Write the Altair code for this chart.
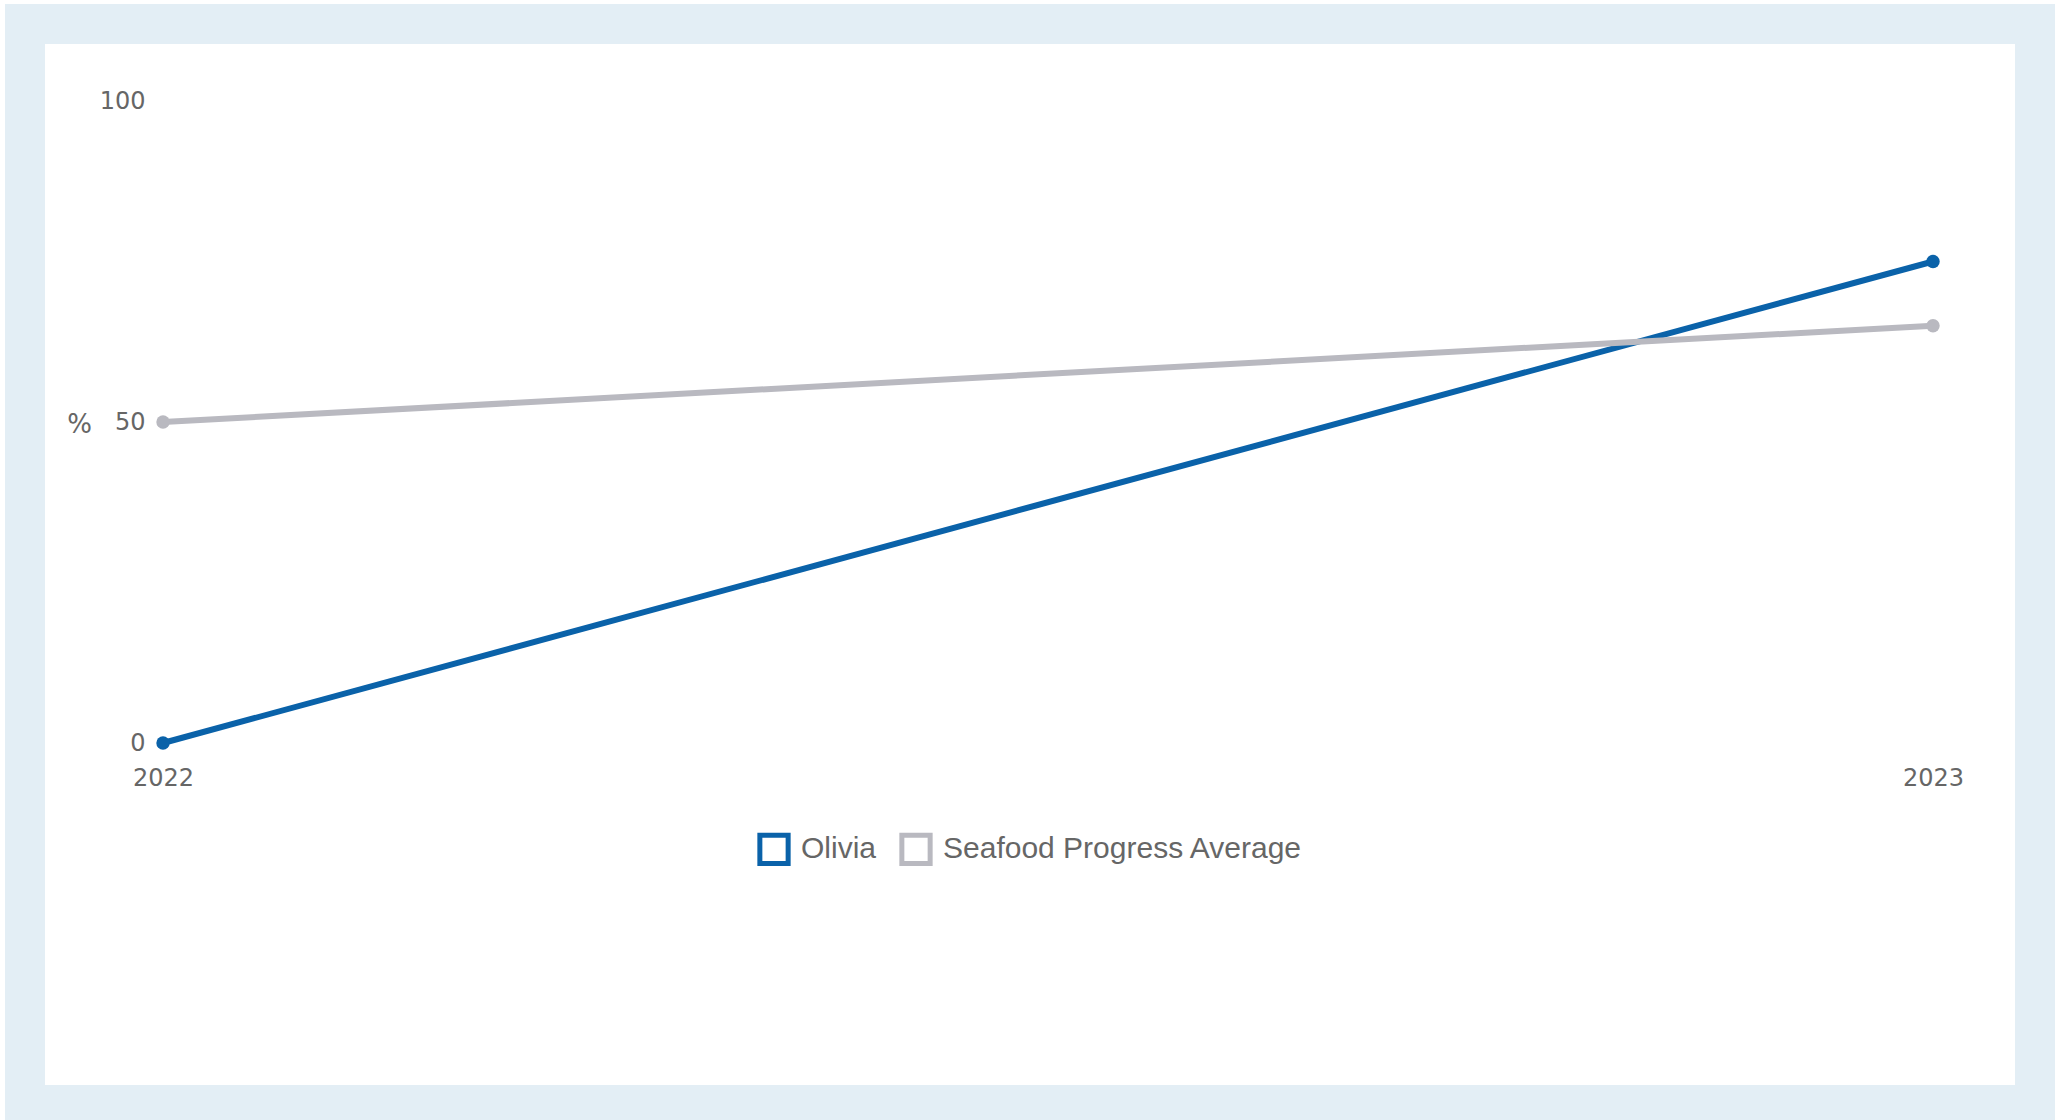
import altair as alt
import pandas as pd

# Series values (percent)
years = ["2022", "2023"]
olivia = [0, 75]
seafood_avg = [50, 65]
series_names = ["Olivia", "Seafood Progress Average"]
series_colors = ["#0a62a9", "#b9b9c0"]

rows = []
for y, v in zip(years, olivia):
    rows.append({"year": y, "value": v, "series": series_names[0]})
for y, v in zip(years, seafood_avg):
    rows.append({"year": y, "value": v, "series": series_names[1]})
df = pd.DataFrame(rows)

one = pd.DataFrame({"k": [0]})

label_color = "#666666"

# Light blue frame with a white card inside it
frame = alt.Chart(one).mark_rect(color="#e3eef5").encode(
    x=alt.value(-158), x2=alt.value(1892), y=alt.value(-97), y2=alt.value(1019)
)
card = alt.Chart(one).mark_rect(color="#ffffff").encode(
    x=alt.value(-118), x2=alt.value(1852), y=alt.value(-57), y2=alt.value(984)
)

x_enc = alt.X(
    "year:N",
    scale=alt.Scale(type="point", padding=0),
    axis=alt.Axis(
        title=None,
        labelAngle=0,
        labelPadding=23,
        labelFontSize=24,
        labelColor=label_color,
        labelFont="DejaVu Sans",
        ticks=False,
        domain=False,
        grid=False,
        zindex=1,
    ),
)
y_enc = alt.Y(
    "value:Q",
    scale=alt.Scale(domain=[0, 100], nice=False),
    axis=alt.Axis(
        values=[0, 50, 100],
        title="%",
        titleAngle=0,
        titleX=-84,
        titleY=323,
        titleAlign="center",
        titleBaseline="middle",
        titleFontSize=26,
        titleFontWeight="normal",
        titleFont="DejaVu Sans",
        titleColor=label_color,
        labelPadding=18,
        labelFontSize=24,
        labelColor=label_color,
        labelFont="DejaVu Sans",
        ticks=False,
        domain=False,
        grid=False,
        zindex=1,
    ),
)
color_scale = alt.Scale(domain=series_names, range=series_colors)

# Hollow square keys: this layer carries the legend and draws no marks
keys = alt.Chart(df).transform_filter(alt.datum.value < 0).mark_point(
    shape="square", filled=False, strokeWidth=5, size=800, opacity=1
).encode(
    x=x_enc,
    y=y_enc,
    color=alt.Color(
        "series:N",
        scale=color_scale,
        legend=alt.Legend(
            title=None,
            orient="none",
            direction="horizontal",
            legendX=594,
            legendY=731,
            padding=0,
            symbolType="square",
            symbolSize=800,
            symbolStrokeWidth=5,
            symbolOpacity=1,
            symbolFillColor="transparent",
            labelFont="Liberation Sans",
            labelFontSize=30,
            labelLimit=0,
            labelColor=label_color,
            labelOffset=10,
            columnPadding=14,
        ),
    ),
)

# One line and its end points per series
series_layers = []
for name, col in zip(series_names, series_colors):
    base = alt.Chart(df).transform_filter(alt.datum.series == name)
    series_layers.append(
        base.mark_line(strokeWidth=6, color=col).encode(
            x=alt.X("year:N"), y=alt.Y("value:Q")
        )
    )
    series_layers.append(
        base.mark_circle(size=180, opacity=1, color=col).encode(
            x=alt.X("year:N"), y=alt.Y("value:Q")
        )
    )

chart = alt.layer(frame, card, keys, *series_layers).properties(
    width=1770,
    height=642,
    padding={"left": 163, "top": 101, "right": 136, "bottom": 377},
    autosize=alt.AutoSizeParams(type="none"),
    background="#ffffff",
).configure_view(stroke=None)

chart.save("out.html", embed_options={"renderer": "svg", "actions": False})
